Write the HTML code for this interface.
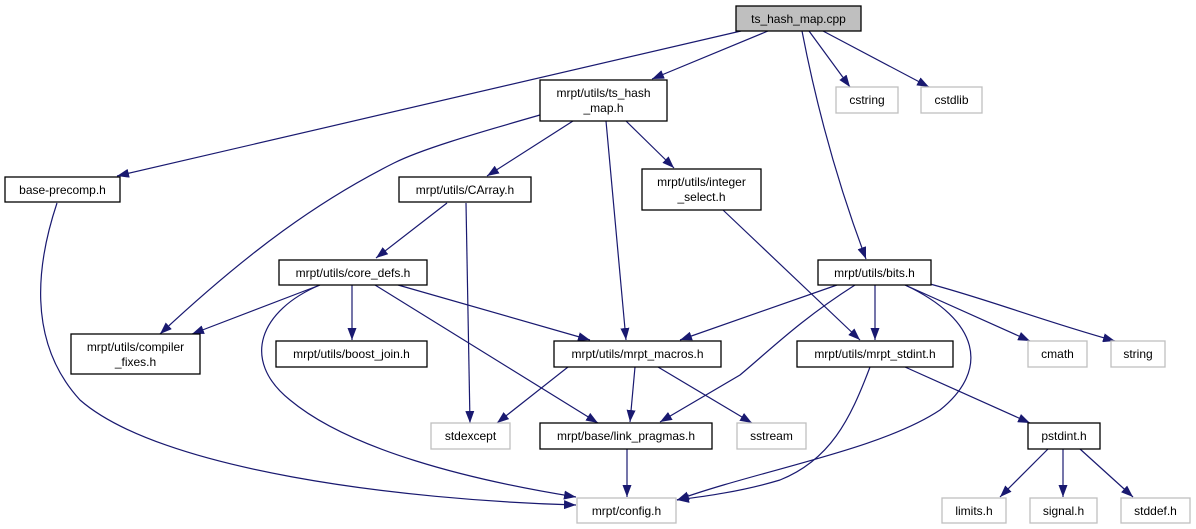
<!DOCTYPE html>
<html><head><meta charset="utf-8"><style>
html,body{margin:0;padding:0;background:#fff;}
svg{display:block;}
text{font-family:"Liberation Sans",sans-serif;font-size:12px;fill:#000;text-anchor:middle;}
.n{fill:#fff;stroke:#000;stroke-width:1.3;}
.g{fill:#fff;stroke:#bfbfbf;stroke-width:1.3;}
.e{fill:none;stroke:#191970;stroke-width:1.2;marker-end:url(#a);}
</style></head><body>
<svg width="1196" height="529" viewBox="0 0 1196 529">
<defs><marker id="a" viewBox="0 0 12 9" refX="12" refY="4.5" markerWidth="12" markerHeight="9" markerUnits="userSpaceOnUse" orient="auto"><path d="M0,0 L12,4.5 L0,9 z" fill="#191970"/></marker></defs>
<path class="e" d="M741,31 L117,176"/>
<path class="e" d="M768,31 L652,79"/>
<path class="e" d="M809,31 L850,87"/>
<path class="e" d="M823,31 L929,87"/>
<path class="e" d="M802,31 Q825,150 866,259"/>
<path class="e" d="M573,121 L487,176"/>
<path class="e" d="M626,121 L674,168"/>
<path class="e" d="M606,121 L626,340"/>
<path class="e" d="M540,115 C470,135 420,150 394,163 C320,200 250,250 160,334"/>
<path class="e" d="M447,203 L376,258"/>
<path class="e" d="M466,203 L470,423"/>
<path class="e" d="M723,210 L860,340"/>
<path class="e" d="M57,203 C38,260 25,340 80,400 C160,470 400,500 576,505"/>
<path class="e" d="M320,285 L192,334"/>
<path class="e" d="M320,285 C260,310 240,360 290,400 C350,450 470,480 576,497"/>
<path class="e" d="M352,285 L352,340"/>
<path class="e" d="M375,285 L598,423"/>
<path class="e" d="M398,285 L590,340"/>
<path class="e" d="M568,367 L497,423"/>
<path class="e" d="M635,367 L630,422"/>
<path class="e" d="M658,367 L752,423"/>
<path class="e" d="M627,449 L627,497"/>
<path class="e" d="M837,285 L680,340"/>
<path class="e" d="M855,285 C800,320 770,350 740,375 L660,422"/>
<path class="e" d="M875,285 L875,340"/>
<path class="e" d="M905,285 C980,320 990,370 940,410 C880,450 760,470 677,500"/>
<path class="e" d="M905,285 L1030,341"/>
<path class="e" d="M930,284 C990,300 1040,320 1115,341"/>
<path class="e" d="M870,367 C850,420 830,460 780,480 C740,492 700,497 677,500"/>
<path class="e" d="M905,367 L1030,423"/>
<path class="e" d="M1048,449 L1000,497"/>
<path class="e" d="M1063,449 L1063,497"/>
<path class="e" d="M1080,449 L1133,497"/>

<rect x="736" y="6" width="125" height="25" fill="#bfbfbf" stroke="#000" stroke-width="1.3"/><text x="798.5" y="23">ts_hash_map.cpp</text>
<rect class="n" x="540" y="80" width="127" height="41"/><text x="603.5" y="97">mrpt/utils/ts_hash</text><text x="603.5" y="112">_map.h</text>
<rect class="g" x="836" y="87" width="62" height="26"/><text x="867" y="104">cstring</text>
<rect class="g" x="921" y="87" width="61" height="26"/><text x="951.5" y="104">cstdlib</text>
<rect class="n" x="5" y="177" width="115" height="25"/><text x="62.5" y="194">base-precomp.h</text>
<rect class="n" x="399" y="177" width="132" height="25"/><text x="465" y="194">mrpt/utils/CArray.h</text>
<rect class="n" x="642" y="169" width="119" height="41"/><text x="701.5" y="186">mrpt/utils/integer</text><text x="701.5" y="201">_select.h</text>
<rect class="n" x="818" y="260" width="113" height="25"/><text x="874.5" y="277">mrpt/utils/bits.h</text>
<rect class="n" x="279" y="260" width="148" height="25"/><text x="353" y="277">mrpt/utils/core_defs.h</text>
<rect class="n" x="71" y="334" width="129" height="40"/><text x="135.5" y="351">mrpt/utils/compiler</text><text x="135.5" y="366">_fixes.h</text>
<rect class="n" x="276" y="341" width="151" height="26"/><text x="351.5" y="358">mrpt/utils/boost_join.h</text>
<rect class="n" x="554" y="341" width="167" height="26"/><text x="637.5" y="358">mrpt/utils/mrpt_macros.h</text>
<rect class="n" x="797" y="341" width="156" height="26"/><text x="875" y="358">mrpt/utils/mrpt_stdint.h</text>
<rect class="g" x="1028" y="341" width="59" height="26"/><text x="1057.5" y="358">cmath</text>
<rect class="g" x="1111" y="341" width="54" height="26"/><text x="1138" y="358">string</text>
<rect class="g" x="431" y="423" width="79" height="26"/><text x="470.5" y="440">stdexcept</text>
<rect class="n" x="540" y="423" width="172" height="26"/><text x="626" y="440">mrpt/base/link_pragmas.h</text>
<rect class="g" x="737" y="423" width="69" height="26"/><text x="771.5" y="440">sstream</text>
<rect class="n" x="1028" y="423" width="72" height="26"/><text x="1064" y="440">pstdint.h</text>
<rect class="g" x="577" y="498" width="99" height="25"/><text x="626.5" y="515">mrpt/config.h</text>
<rect class="g" x="942" y="498" width="64" height="25"/><text x="974" y="515">limits.h</text>
<rect class="g" x="1030" y="498" width="67" height="25"/><text x="1063.5" y="515">signal.h</text>
<rect class="g" x="1121" y="498" width="69" height="25"/><text x="1155.5" y="515">stddef.h</text>
</svg>
</body></html>
